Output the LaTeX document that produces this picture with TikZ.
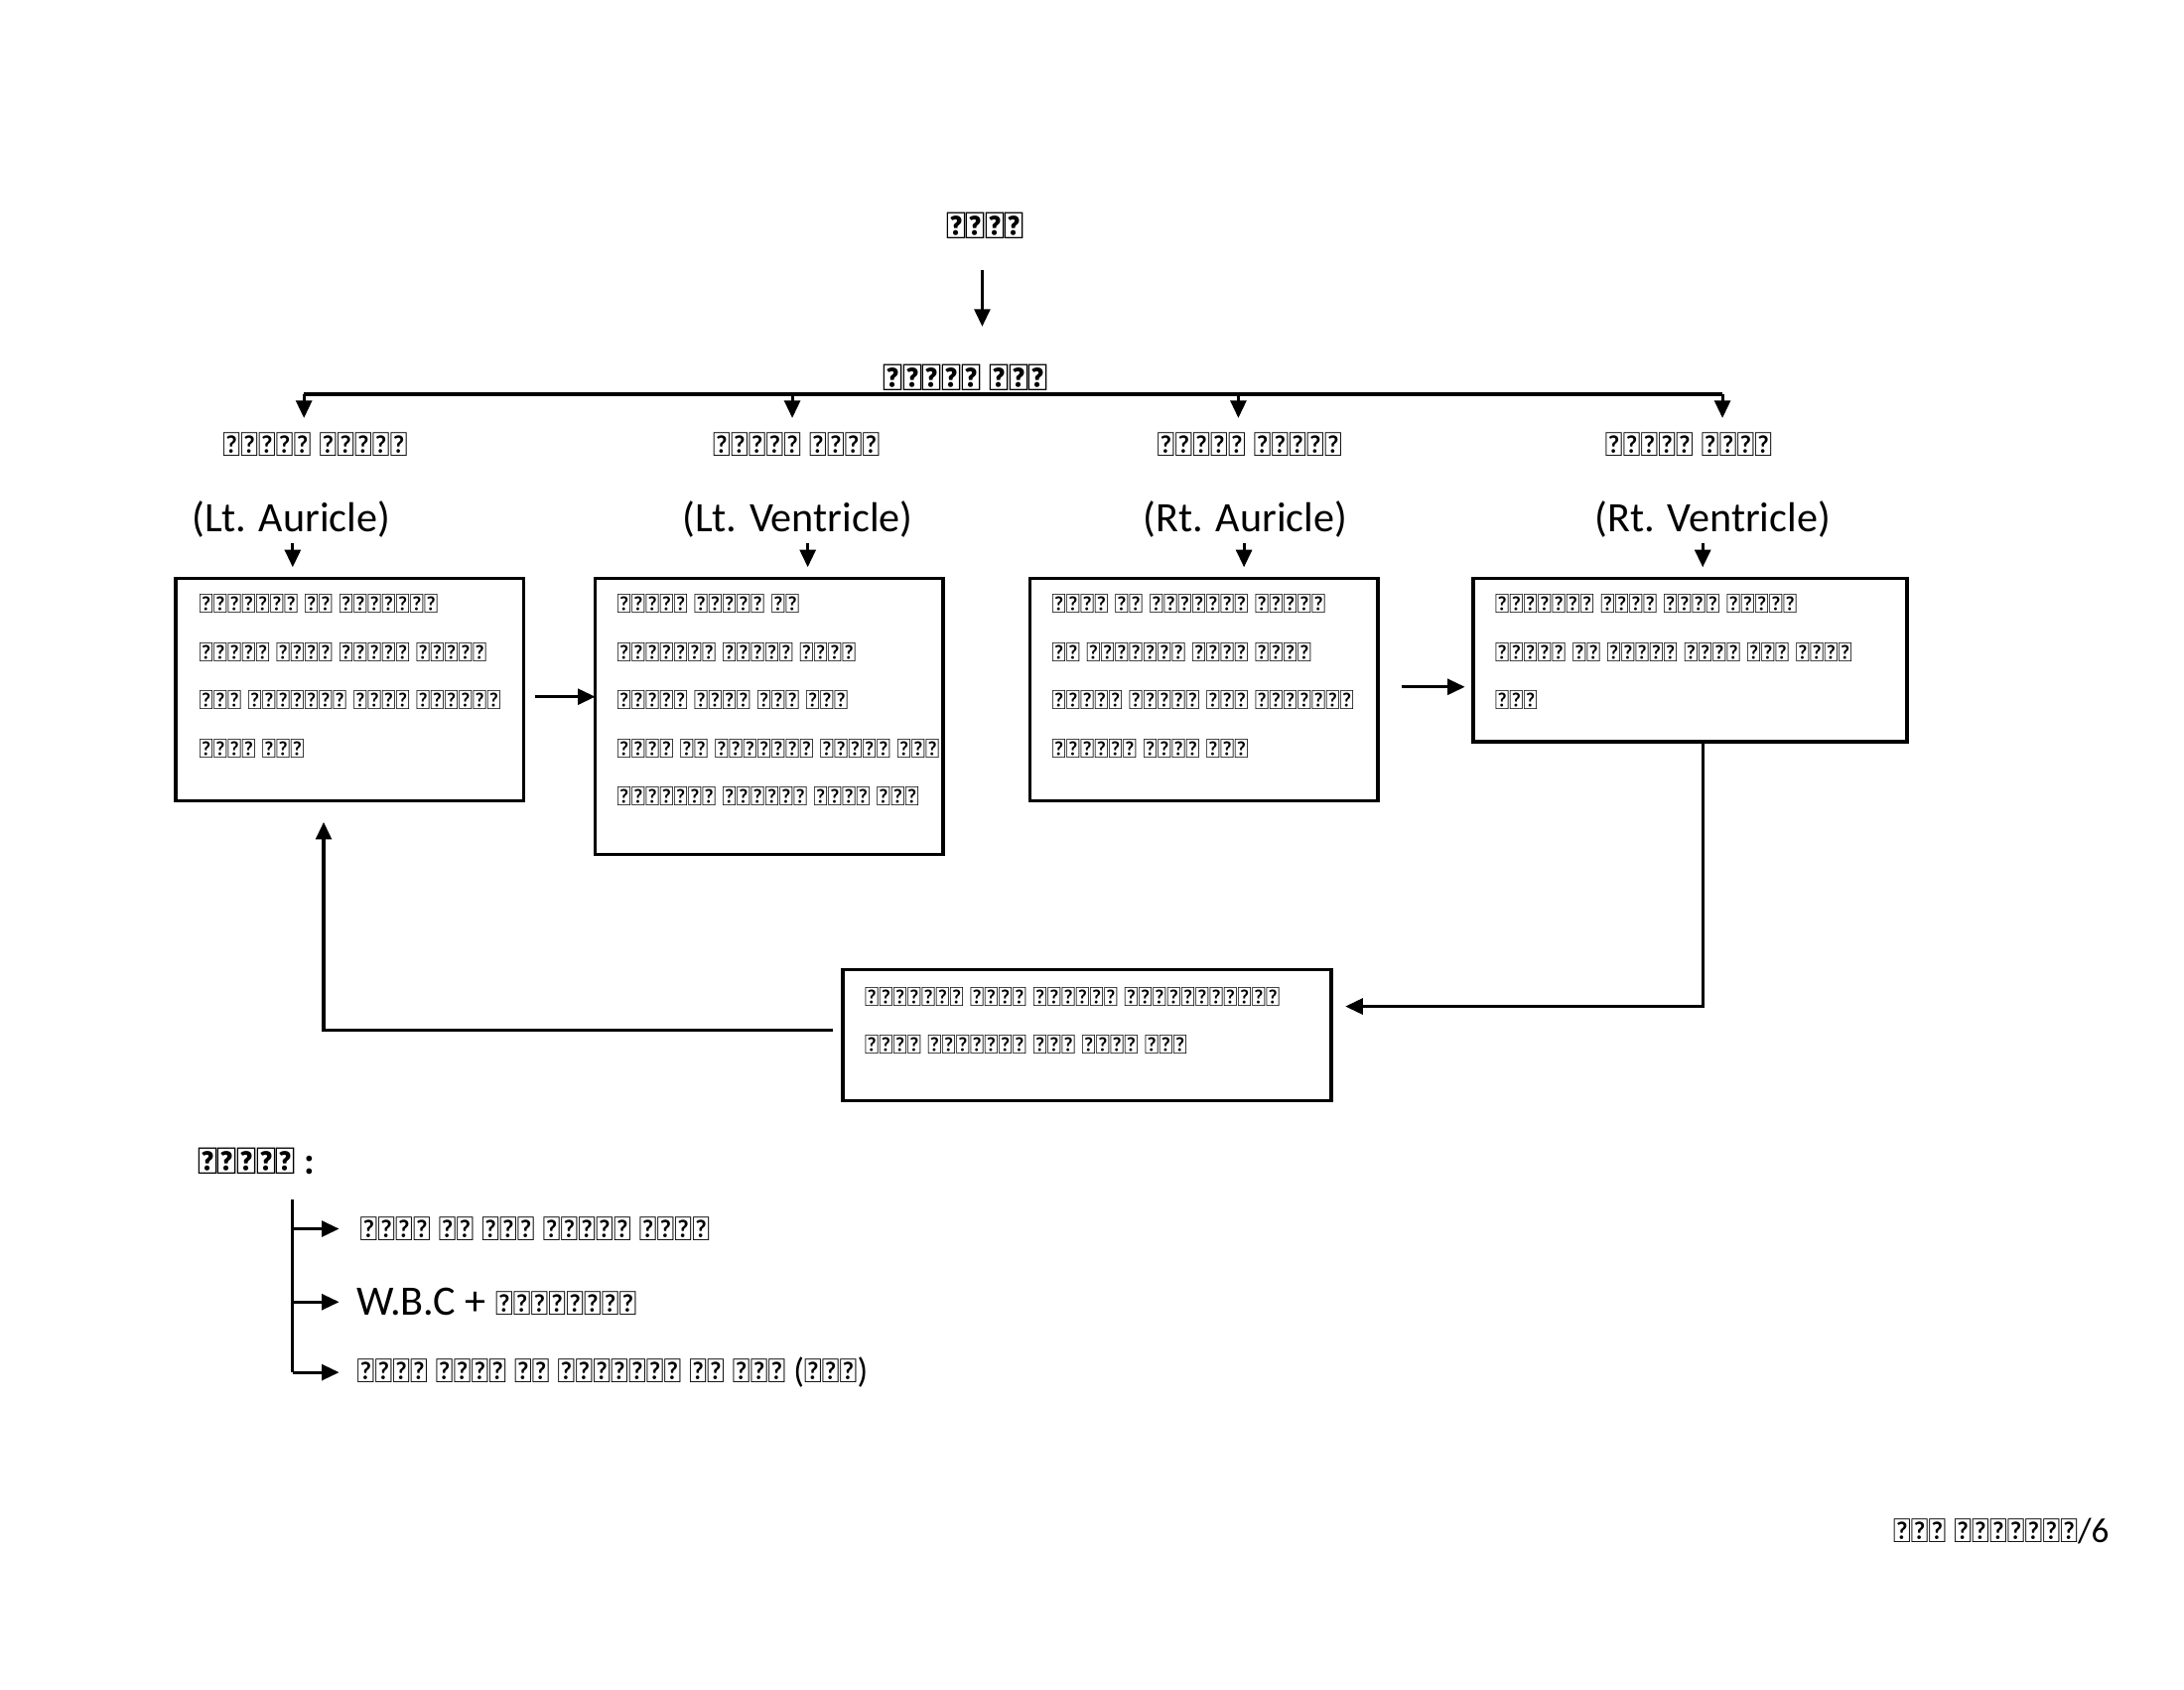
\documentclass[tikz,border=0pt]{standalone}
\usepackage{fontspec}
\setmainfont{Carlito}
\usetikzlibrary{arrows.meta}
\begin{document}
\begin{tikzpicture}[x=0.014175cm,y=-0.014175cm,
  ln/.style={line width=0.9pt},
  ar/.style={ln,-{Triangle[length=5pt,width=4.5pt]}},
  btxt/.style={anchor=north west,align=left,font=\fontsize{8}{13.8}\selectfont,inner sep=0pt},
  hin/.style={font=\fontsize{10}{13}\selectfont},
  eng/.style={font=\fontsize{12}{15}\selectfont},
  bold/.style={font=\fontsize{11}{14}\bfseries\selectfont}]
\useasboundingbox (0,0) rectangle (1552,1200);
\node[bold] (h) at (700,160) {हृदय};
\coordinate (ha) at (698,192);
\coordinate (hb) at (698,232);
\draw[ar] (ha) -- (hb);
\node[bold] (p) at (686,268) {पेशीय अंग};
\coordinate (l1) at (216,280); \coordinate (l4) at (1224,280);
\draw[ln] (l1) -- (l4);
\foreach \x/\n in {216/a,563/b,880/c,1224/d}{
  \coordinate (t\n) at (\x,280); \coordinate (u\n) at (\x,297);
  \draw[ar] (t\n) -- (u\n);}
\node[hin] (h1) at (224,316) {बायाँ अलिंद};
\node[hin] (h2) at (566,316) {बायाँ निलय};
\node[hin] (h3) at (888,316) {दायाँ अलिंद};
\node[hin] (h4) at (1200,316) {दायाँ निलय};
\node[eng] (e1) at (207,369) {(Lt. Auricle)};
\node[eng] (e2) at (567,369) {(Lt. Ventricle)};
\node[eng] (e3) at (885,369) {(Rt. Auricle)};
\node[eng] (e4) at (1217,369) {(Rt. Ventricle)};
\foreach \x/\n in {208/a,574/b,884/c,1210/d}{
  \coordinate (s\n) at (\x,386); \coordinate (r\n) at (\x,403);
  \draw[ar] (s\n) -- (r\n);}
\draw[line width=1pt] (125,411) rectangle (372,569);
\node[btxt] (b1) at (141,422) {फेफड़ों से ऑक्सीजन\\युक्त रक्त बायाँ अलिंद\\में फुफ्फुस शिरा द्वारा\\जाता है।};
\draw[line width=1pt] (423,411) rectangle (670,607);
\node[btxt] (b2) at (438,422) {बायें अलिंद से\\ऑक्सीजन युक्त रक्त\\बायाँ निलय में आकर\\शरीर के विभिन्न भागों में\\महाधमनी द्वारा जाता है।};
\draw[line width=1pt] (732,411) rectangle (979,569);
\node[btxt] (b3) at (747,422) {शरीर के विभिन्न भागों\\से ऑक्सीजन रहित रक्त\\दायाँ अलिंद में महाशिरा\\द्वारा जाता है।};
\draw[line width=1pt] (1047,411) rectangle (1355,527);
\node[btxt] (b4) at (1062,422) {ऑक्सीजन रहित रक्त दायें\\अलिंद से दायें निलय में जाता\\है।};
\draw[line width=1pt] (599,689) rectangle (946,782);
\node[btxt] (b5) at (614,701) {फुफ्फुस धमनी द्वारा ऑक्सीजनीकरण\\हेतु फेफड़ों में जाता है।};
\coordinate (a1) at (380,495); \coordinate (a2) at (423,495);
\draw[ar] (a1) -- (a2);
\coordinate (a3) at (996,488); \coordinate (a4) at (1041,488);
\draw[ar] (a3) -- (a4);
\coordinate (c1) at (1210,527); \coordinate (c2) at (1210,715); \coordinate (c3) at (956,715);
\draw[ar] (c1) -- (c2) -- (c3);
\coordinate (d1) at (592,732); \coordinate (d2) at (230,732); \coordinate (d3) at (230,584);
\draw[ar] (d1) -- (d2) -- (d3);
\node[bold] (ls) at (182,825) {लसीका :};
\coordinate (v1) at (208,852); \coordinate (v2) at (208,975);
\draw[ln] (v1) -- (v2);
\foreach \y/\n in {873/a,925/b,975/c}{
  \coordinate (w\n) at (208,\y); \coordinate (z\n) at (241,\y);
  \draw[ar] (w\n) -- (z\n);}
\node[hin,anchor=west] (k1) at (247,873) {ऊतको के बीच स्थित द्रव};
\node[hin,anchor=west] (k2) at (245,925) {{\fontsize{12}{15}\selectfont W.B.C + }प्लाज्मा};
\node[hin,anchor=west] (k3) at (245,975) {पोषक तत्व और हॉर्मोन का वहन (वसा)};
\node[hin] (pg) at (1422,1088) {जीव विज्ञान/6};
\end{tikzpicture}
\end{document}
